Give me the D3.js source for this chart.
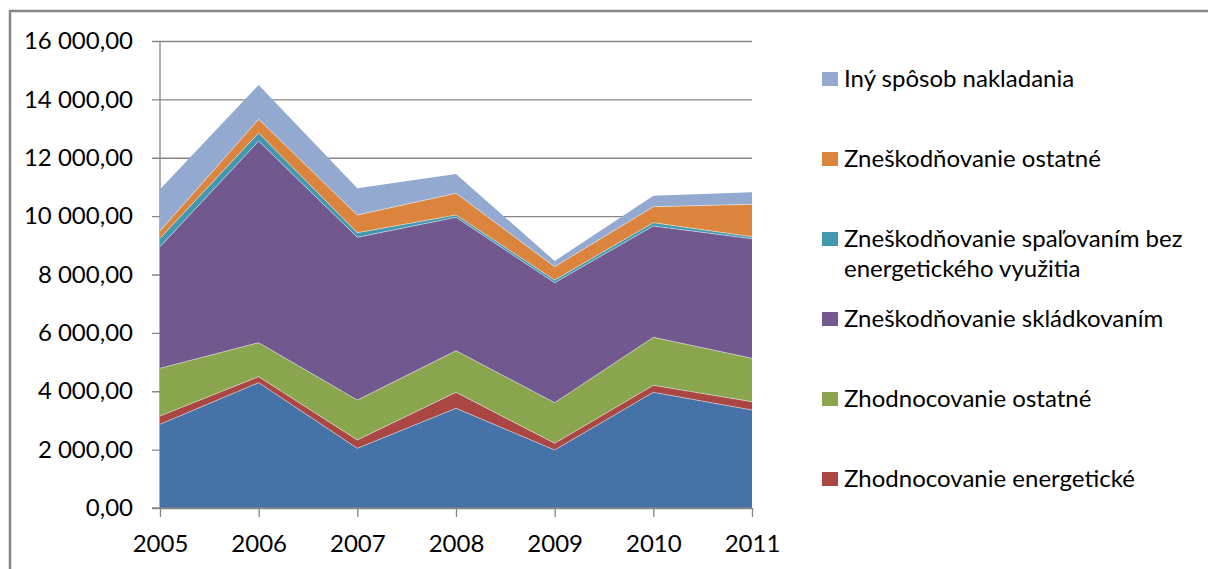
<!DOCTYPE html>
<html>
<head>
<meta charset="utf-8">
<script src="https://cdn.jsdelivr.net/npm/d3@7"></script>
<style>
  html, body { margin: 0; padding: 0; background: #ffffff; overflow: hidden; }
  svg { display: block; overflow: hidden; }
  text { font-family: Lato, "Open Sans", sans-serif; fill: #000; }
</style>
</head>
<body>
<svg id="chart" width="1208" height="569"></svg>
<script>
// ---- Data ----
const years = ["2005", "2006", "2007", "2008", "2009", "2010", "2011"];

// series, bottom of stack first
const seriesNames = [
  "Zhodnocovanie materiálové",
  "Zhodnocovanie energetické",
  "Zhodnocovanie ostatné",
  "Zneškodňovanie skládkovaním",
  "Zneškodňovanie spaľovaním bez energetického využitia",
  "Zneškodňovanie ostatné",
  "Iný spôsob nakladania"
];
const valuesMaterial   = [2867, 4294, 2045, 3415, 1987, 3963, 3357];
const valuesEnergy     = [285, 206, 285, 548, 229, 240, 285];
const valuesRecOther   = [1634, 1164, 1370, 1427, 1392, 1645, 1487];
const valuesLandfill   = [4166, 6909, 5574, 4569, 4111, 3813, 4097];
const valuesIncin      = [288, 277, 158, 79, 92, 114, 69];
const valuesDispOther  = [250, 470, 606, 744, 457, 547, 1110];
const valuesOtherWay   = [1428, 1172, 915, 661, 194, 378, 411];

const yTicks = [0, 2000, 4000, 6000, 8000, 10000, 12000, 14000, 16000];

// legend shows the top six series, top of stack first (bottom one is cut off)
const legendNames = [
  "Iný spôsob nakladania",
  "Zneškodňovanie ostatné",
  "Zneškodňovanie spaľovaním bez energetického využitia",
  "Zneškodňovanie skládkovaním",
  "Zhodnocovanie ostatné",
  "Zhodnocovanie energetické"
];

const colors = ["#4572A7", "#AA4643", "#89A54E", "#71588F", "#4198AF", "#DB843D", "#93A9CF"];

// ---- Build table ----
const allValues = [valuesMaterial, valuesEnergy, valuesRecOther, valuesLandfill, valuesIncin, valuesDispOther, valuesOtherWay];
const table = years.map((yr, i) => {
  const row = { year: yr };
  seriesNames.forEach((n, k) => row[n] = allValues[k][i]);
  return row;
});
const colorOf = d3.scaleOrdinal().domain(seriesNames).range(colors);

const svg = d3.select("#chart");

// outer frame (only left and top edges are inside the picture)
svg.append("path").attr("d", "M10,569V11H1208")
  .attr("fill", "none").attr("stroke", "#878787").attr("stroke-width", 2.5);

const x = d3.scalePoint().domain(years).range([160, 752]);
const y = d3.scaleLinear().domain([0, 16000]).range([508, 41]);

const locale = d3.formatLocale({ decimal: ",", thousands: " ", grouping: [3], currency: ["", ""] });
const fmt = locale.format(",.2f");

// y axis with gridlines
const yAxis = svg.append("g").attr("transform", "translate(152,0)")
  .call(d3.axisLeft(y).tickValues(yTicks).tickSizeInner(-600).tickSizeOuter(0).tickPadding(19).tickFormat(fmt));
yAxis.select(".domain").remove();
yAxis.selectAll(".tick line").attr("stroke", "#868686").attr("stroke-width", 1.3);
yAxis.selectAll(".tick text").style("font-size", "24px").style("font-family", "Lato, sans-serif").attr("fill", "#000");

// vertical y axis line
svg.append("line").attr("x1", 160).attr("x2", 160).attr("y1", y(16000)).attr("y2", y(0))
  .attr("stroke", "#868686").attr("stroke-width", 1.3);

// stacked areas
const stack = d3.stack().keys(seriesNames);
const layers = stack(table);
const area = d3.area()
  .x(d => x(d.data.year))
  .y0(d => y(d[0]))
  .y1(d => y(d[1]));
svg.append("g").selectAll("path").data(layers).join("path")
  .attr("d", area)
  .attr("fill", d => colorOf(d.key));

// thin light seams between layers
const topLine = d3.line().x(d => x(d.data.year)).y(d => y(d[1]));
svg.append("g").selectAll("path").data(layers.slice(0, -1)).join("path")
  .attr("d", topLine).attr("fill", "none")
  .attr("stroke", "#ffffff").attr("stroke-opacity", 0.45).attr("stroke-width", 1);

// x axis
const xAxis = svg.append("g").attr("transform", `translate(0,${y(0)})`)
  .call(d3.axisBottom(x).tickSizeInner(9).tickSizeOuter(0));
xAxis.select(".domain").attr("stroke", "#868686").attr("stroke-width", 1.3)
  .attr("d", `M152,0H752`);
xAxis.selectAll(".tick line").attr("stroke", "#868686").attr("stroke-width", 1.3);
xAxis.selectAll(".tick text").attr("y", 44).attr("dy", null)
  .style("font-size", "24px").style("font-family", "Lato, sans-serif").attr("fill", "#000");

// legend
const legend = svg.append("g");
legendNames.forEach((name, i) => {
  const cy = 79 + i * 80;
  const g = legend.append("g");
  g.append("rect").attr("x", 822).attr("y", cy - 7).attr("width", 16).attr("height", 14)
    .attr("fill", colorOf(name));
  const t = g.append("text").attr("x", 844).attr("y", cy + 8)
    .style("font-size", "24px").style("font-family", "Lato, sans-serif");
  // wrap text at the legend width
  const words = name.split(" ");
  let line = [];
  let tspan = t.append("tspan").attr("x", 844).attr("dy", 0);
  words.forEach(w => {
    line.push(w);
    tspan.text(line.join(" "));
    if (tspan.node().getComputedTextLength() > 360 && line.length > 1) {
      line.pop();
      tspan.text(line.join(" "));
      line = [w];
      tspan = t.append("tspan").attr("x", 844).attr("dy", 30).text(w);
    }
  });
});
</script>
</body>
</html>
